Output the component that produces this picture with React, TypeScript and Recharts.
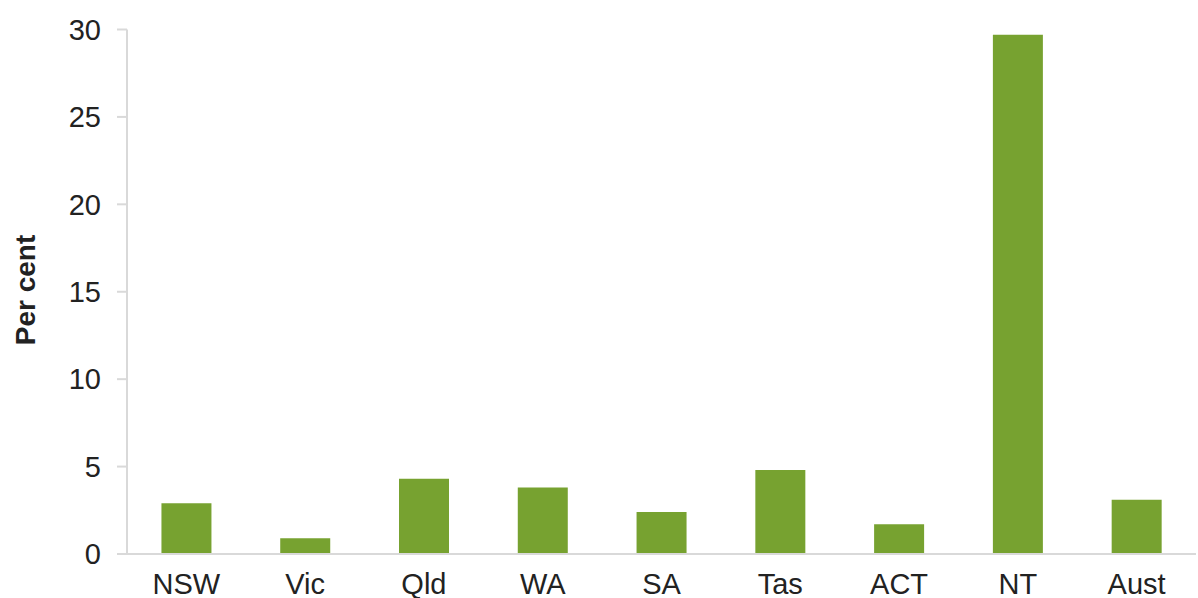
import React from 'react';
import { BarChart, Bar, XAxis, YAxis, Label } from 'recharts';

const categories = ['NSW', 'Vic', 'Qld', 'WA', 'SA', 'Tas', 'ACT', 'NT', 'Aust'];
const values = [2.9, 0.9, 4.3, 3.8, 2.4, 4.8, 1.7, 29.7, 3.1];
const yTicks = [0, 5, 10, 15, 20, 25, 30];

const data = categories.map((c, i) => ({ name: c, value: values[i] }));

const FONT = '"Liberation Sans", Arial, sans-serif';
const AXIS = '#D9D9D9';
const TEXT = '#222222';

export default function App() {
  return (
    <div style={{ position: 'absolute', left: 0, top: 0, width: 1198, height: 598, background: '#fff' }}>
      <BarChart
        width={1198}
        height={598}
        data={data}
        margin={{ top: 29.5, right: 2, bottom: 0, left: 0 }}
        barCategoryGap="29%"
      >
        <XAxis
          dataKey="name"
          height={44}
          tickLine={false}
          tickSize={0}
          tickMargin={19}
          axisLine={{ stroke: AXIS, strokeWidth: 2 }}
          tick={{ fill: TEXT, fontSize: 29, fontFamily: FONT }}
          interval={0}
        />
        <YAxis
          width={127}
          domain={[0, 30]}
          ticks={yTicks}
          tickSize={10}
          tickMargin={16}
          axisLine={{ stroke: AXIS, strokeWidth: 2 }}
          tickLine={{ stroke: AXIS, strokeWidth: 2 }}
          tick={{ fill: TEXT, fontSize: 29, fontFamily: FONT }}
          interval={0}
        >
          <Label
            content={() => (
              <text
                x={25}
                y={290}
                transform="rotate(-90 25 290)"
                textAnchor="middle"
                dominantBaseline="central"
                fill={TEXT}
                fontSize={28}
                fontWeight="bold"
                fontFamily={FONT}
              >
                Per cent
              </text>
            )}
          />
        </YAxis>
        <Bar dataKey="value" fill="#77A230" isAnimationActive={false} />
      </BarChart>
    </div>
  );
}
